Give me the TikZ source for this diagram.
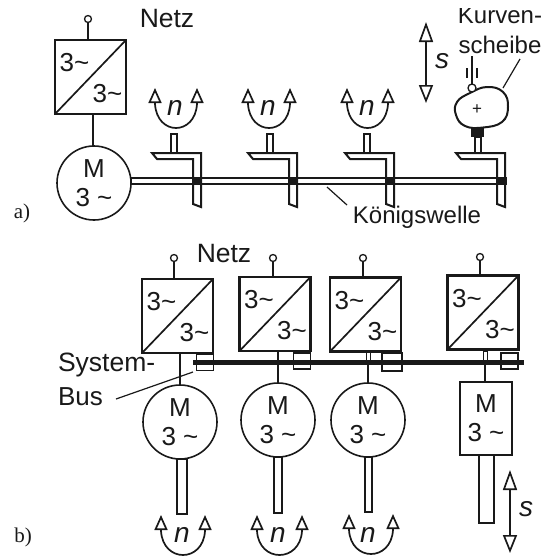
\documentclass[tikz,border=0pt]{standalone}
\usepackage{fontspec}
\setmainfont{Liberation Sans}
\newfontfamily\labfont{Liberation Serif}
\usetikzlibrary{arrows.meta}
\definecolor{ink}{gray}{0.1}
\newcommand{\tl}{\textasciitilde}
\tikzset{
  x=1pt,y=-1pt,
  every node/.style={inner sep=0pt,outer sep=0pt,text=ink},
  big/.style={font=\fontsize{24}{27}\selectfont},
  netz/.style={font=\fontsize{26.5}{30}\selectfont},
  conv/.style={draw=ink,line width=2.2pt,minimum width=71pt,minimum height=74pt},
  convtxt/.style={font=\fontsize{26}{30}\selectfont},
  motor/.style={draw=ink,line width=1.6pt,circle,minimum size=74pt,align=center,font=\fontsize{26}{31}\selectfont},
  motorbox/.style={draw=ink,line width=1.6pt,minimum width=52pt,minimum height=73pt,align=center,font=\fontsize{26}{31}\selectfont},
  term/.style={draw=ink,line width=1.3pt,circle,minimum size=7pt,fill=white},
  wire/.style={draw=ink,line width=2pt},
  thin leader/.style={draw=ink,line width=1.2pt},
  mech/.style={draw=ink,line width=2pt,fill=white},
  shafttube/.style={draw=ink,line width=1.5pt,fill=white},
  tworot/.style={draw=ink,line width=1.7pt,{Triangle[open,length=15pt,width=13pt,fill=white]}-{Triangle[open,length=15pt,width=13pt,fill=white]}},
  strokearrow/.style={draw=ink,line width=1.7pt,{Triangle[open,length=20pt,width=14pt,fill=white]}-{Triangle[open,length=18pt,width=14pt,fill=white]}},
  italn/.style={font=\fontsize{28}{30}\itshape},
  itals/.style={font=\fontsize{28}{30}\itshape},
  lab/.style={font=\labfont\fontsize{21}{24}\selectfont},
  busmark/.style={draw=ink,line width=1.2pt,minimum width=17pt,minimum height=16pt},
}
% converter: name, centre, terminal
\newcommand{\conv}[3]{%
  \node[conv] (#1) at (#2) {};
  \draw[ink,line width=1.7pt] (#1.south west) -- (#1.north east);
  \node[convtxt,anchor=center] at ([xshift=-16pt,yshift=14pt]#1.center) {3\tl};
  \node[convtxt,anchor=center] at ([xshift=17pt,yshift=-17pt]#1.center) {3\tl};
  \node[term] (#1t) at (#3) {};
  \draw[wire] (#1t) -- (#1t |- #1.north);
}
% rotation arrow: name, left x, right x, apex y
\newcommand{\rot}[4]{%
  \coordinate (#1a) at (#2,#4);
  \coordinate (#1b) at (#3,#4);
  \draw[tworot] (#1a) -- ++(0,16) .. controls ++(2,32) and ([xshift=-2pt,yshift=-48pt]#1b) .. ([yshift=-16pt]#1b) -- (#1b);
}
% gear: x offset
\newcommand{\gear}[1]{%
  \begin{scope}[xshift=#1pt]
    \fill[ink] (194,177) rectangle (200,185);
    \draw[mech,fill=none] (152,153) -- (201,153) -- (201,207) -- (193,204) -- (193,159) -- (157,159) -- cycle;
  \end{scope}
}
\begin{document}
\begin{tikzpicture}
\useasboundingbox (0,0) rectangle (559,555);
\fill[white] (0,0) rectangle (559,555);

%%% a)
\conv{ca}{90.5,77}{88,19}
\node[motor] (ma) at (94,183) {M\\[-2pt]3 \tl};
\draw[wire] (ca.south -| 93,0) -- (93,146);
\node[netz] (na) at (167,19) {Netz};
\node[lab] (la) at (22,213) {a)};

% shaft
\node[draw=ink,line width=2.4pt,fill=white,minimum width=375pt,minimum height=5.5pt] (shaft) at (318.5,181) {};
\gear{0}\gear{96}\gear{193}\gear{304}
% stems
\node[mech,minimum width=6pt,minimum height=19pt] (st1) at (174,143.5) {};
\node[mech,minimum width=6pt,minimum height=19pt] (st2) at (270,143.5) {};
\node[mech,minimum width=6pt,minimum height=19pt] (st3) at (366.5,143.5) {};
\node[mech,minimum width=6pt,minimum height=16pt] (st4) at (477.5,145) {};
\rot{ra}{155}{197}{88}
\rot{rb}{248}{290}{88}
\rot{rc}{347}{388}{88}
\node[italn] (n1) at (175,108) {n};
\node[italn] (n2) at (268,108) {n};
\node[italn] (n3) at (367,108) {n};

% cam
\fill[ink] (471,127) rectangle (484,137);
\draw[ink,line width=2pt,fill=white] plot[smooth cycle,tension=0.75] coordinates {(487,87)(503,92)(508,107)(502,122)(483,127.5)(465,126)(456,115)(457,102)(470,93)};
\node[font=\fontsize{17}{17}\selectfont] (plus) at (477,110) {+};
\node[term,minimum size=8pt] (foll) at (472,88) {};
\coordinate (rodtop) at (472,56);
\draw[wire] (rodtop) -- (foll);
\draw[ink,line width=1.6pt] (467,68) -- (467,78) (477,68) -- (477,78);
\begin{scope}
  \clip (440,8) rectangle (559,70);
  \node[font=\fontsize{24}{30}\selectfont,anchor=base] (kv) at (500,23) {Kurven-};
  \node[font=\fontsize{24}{30}\selectfont,anchor=base] (ks) at (500,53) {scheibe};
\end{scope}
\coordinate (klead) at (520,59);
\coordinate (kend) at (503,88);
\draw[thin leader] (klead) -- (kend);

% s arrow a
\coordinate (sa1) at (426,22);
\coordinate (sa2) at (426,103);
\draw[strokearrow] (sa1) -- (sa2);
\node[itals] (s1) at (442,61) {s};

\node[big] (kw) at (417,217) {Königswelle};
\coordinate (kw1) at (327,187);
\coordinate (kw2) at (347,205);
\draw[thin leader] (kw1) -- (kw2);

%%% b)
\node[netz] (nb) at (224,254) {Netz};
\node[lab] (lb) at (23,537) {b)};
\conv{c1}{177.5,316}{174,258}
\conv{c2}{275,314}{273,258}
\conv{c3}{365.5,314.5}{363,258}
\conv{c4}{483,312.5}{480,257}

\node[busmark] (b1) at (205,362.5) {};
\node[busmark] (b2) at (302,361) {};
\node[busmark,minimum width=20pt,minimum height=18pt] (b3) at (392,362) {};
\node[busmark] (b4) at (509.5,361) {};

\node[motor] (m1) at (180,422) {M\\[-2pt]3 \tl};
\node[motor] (m2) at (278,420) {M\\[-2pt]3 \tl};
\node[motor] (m3) at (368,420) {M\\[-2pt]3 \tl};
\node[motorbox] (m4) at (486,418.5) {M\\[-2pt]3 \tl};

\draw[wire] (m1.north |- c1.south) -- (m1.north);
\draw[wire] (m2.north |- c2.south) -- (m2.north);
\draw[ink,line width=1pt] (366,352) rectangle (370,362);
\draw[ink,line width=1pt] (483,351) rectangle (487,362);
\draw[wire] (m3.north |- 0,362) -- (m3.north);
\draw[wire] (485,362) -- (m4.north -| 485,0);

\coordinate (busl) at (193,362);
\coordinate (busr) at (524,362);
\draw[ink,line width=5pt] (busl) -- (busr);

\node[shafttube,minimum width=10pt,minimum height=55pt,anchor=north] (w1) at (182,459) {};
\node[shafttube,minimum width=8pt,minimum height=56pt,anchor=north] (w2) at (278,457) {};
\node[shafttube,minimum width=7pt,minimum height=55pt,anchor=north] (w3) at (368.5,457) {};
\node[shafttube,minimum width=15pt,minimum height=68pt,anchor=north] (w4) at (486.5,455) {};

\rot{rd}{161}{205}{515}
\rot{re}{257}{302}{515}
\rot{rf}{349}{393}{514}
\node[italn] (n4) at (182,535) {n};
\node[italn] (n5) at (278,535) {n};
\node[italn] (n6) at (368,535) {n};

\coordinate (sb1) at (510,470);
\coordinate (sb2) at (510,553);
\draw[strokearrow] (sb1) -- (sb2);
\node[itals] (s2) at (526,509) {s};

\node[font=\fontsize{26.5}{30}\selectfont,anchor=west] (sys) at (58,365) {System-};
\node[font=\fontsize{26}{30}\selectfont,anchor=west] (bus) at (58,397) {Bus};
\coordinate (sl1) at (116,399);
\coordinate (sl2) at (193,372);
\draw[thin leader] (sl1) -- (sl2);
\end{tikzpicture}
\end{document}
